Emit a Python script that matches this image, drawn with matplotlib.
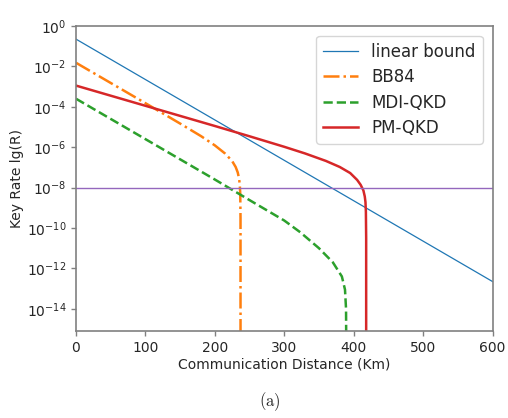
import numpy as np
import matplotlib
matplotlib.use('Agg')
import matplotlib.pyplot as plt

# distance (km) and log10 of key rate
bound_L = [0, 600]
bound_lg = [-0.65, -12.65]

bb84_L = [0, 50, 100, 150, 180, 200, 215, 225, 230, 233, 235, 236, 236.6, 237, 237.01]
bb84_lg = [-1.82, -2.82, -3.82, -4.83, -5.45, -5.91, -6.32, -6.69, -6.98, -7.25,
           -7.57, -7.89, -8.3, -9.5, -17]

mdi_L = [0, 50, 100, 150, 200, 250, 300, 323, 350, 370, 383, 387.5, 389, 389.5]
mdi_lg = [-3.6, -4.6, -5.6, -6.6, -7.6, -8.62, -9.63, -10.21, -11.0, -11.7,
          -12.4, -13.05, -14.0, -17]

pm_L = [0, 50, 100, 150, 200, 250, 300, 330, 360, 380, 395, 405, 410, 414, 416,
        417, 417.6, 418, 418.01]
pm_lg = [-2.95, -3.45, -3.95, -4.45, -4.95, -5.46, -5.98, -6.31, -6.68, -6.98,
         -7.28, -7.62, -7.86, -8.14, -8.44, -8.72, -9.2, -10.5, -17]

threshold = 1e-8

plt.rcParams['font.family'] = ['DejaVu Sans']
plt.rcParams['mathtext.fontset'] = 'dejavusans'

fig = plt.figure(figsize=(5.08, 4.18), dpi=100)
ax = fig.add_axes([0.1496, 0.2081, 0.8199, 0.7297])

ax.plot(bound_L, 10.0**np.array(bound_lg), color='C0', lw=0.9, label='linear bound')
ax.plot(bb84_L, 10.0**np.array(bb84_lg), color='C1', lw=1.8, ls='-.', label='BB84')
ax.plot(mdi_L, 10.0**np.array(mdi_lg), color='C2', lw=1.8, ls='--', label='MDI-QKD')
ax.plot(pm_L, 10.0**np.array(pm_lg), color='C3', lw=1.8, label='PM-QKD')
ax.axhline(threshold, color='C4', lw=1.0)

ax.set_yscale('log')
ax.set_xlim(0, 600)
ax.set_ylim(10**-15.1, 1)
ax.set_yticks([10.0**(-k) for k in range(0, 15, 2)])
ax.yaxis.set_minor_locator(matplotlib.ticker.NullLocator())
ax.set_xticks([0, 100, 200, 300, 400, 500, 600])

for s in ax.spines.values():
	s.set_color('#808080')
	s.set_linewidth(1.2)
ax.tick_params(colors='#808080', labelcolor='#262626', labelsize=10, length=3.5, width=1.0)

ax.set_xlabel('Communication Distance (Km)', fontsize=10, color='#262626', labelpad=2)
ax.set_ylabel('Key Rate lg(R)', fontsize=10, color='#262626', labelpad=2)

leg = ax.legend(loc='upper right', fontsize=12, frameon=True, fancybox=True,
                handlelength=2.1, handletextpad=0.8, borderaxespad=0.6,
                labelspacing=0.45)
leg.get_frame().set_edgecolor('#cccccc')
for t in leg.get_texts():
	t.set_color('#262626')

fig.text(0.531, 0.038, r'$\mathrm{(a)}$', ha='center', va='center', fontsize=12,
         math_fontfamily='cm', color='#262626')

fig.savefig('out.png', dpi=100)
